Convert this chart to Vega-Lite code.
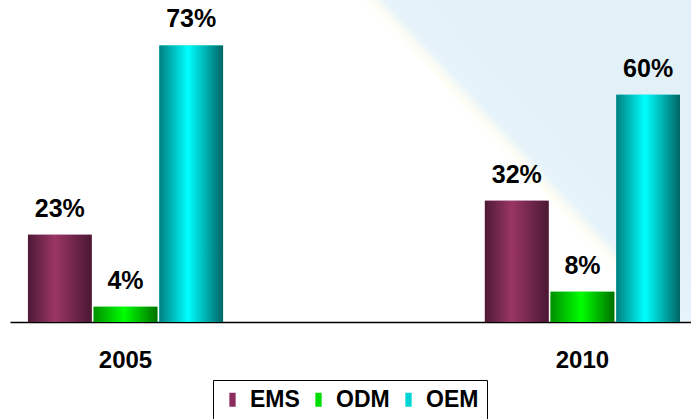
{
  "$schema": "https://vega.github.io/schema/vega-lite/v6.json",
  "width": 681,
  "height": 322,
  "autosize": {"type": "none"},
  "padding": {"left": 10, "top": 0, "right": 0, "bottom": 97},
  "background": "white",
  "view": {
    "stroke": null,
    "fill": {
      "gradient": "linear", "x1": 0.658, "y1": 0.544, "x2": 0.858, "y2": 0.456,
      "stops": [
        {"offset": 0, "color": "#ffffff"},
        {"offset": 0.4, "color": "#ffffff"},
        {"offset": 0.47, "color": "#fdfdf4"},
        {"offset": 0.56, "color": "#e6f3fa"},
        {"offset": 1, "color": "#e2f0f8"}
      ]
    }
  },
  "data": {
    "values": [
      {"year": "2005", "s": "EMS", "v": 23, "label": "23%"},
      {"year": "2005", "s": "ODM", "v": 4, "label": "4%"},
      {"year": "2005", "s": "OEM", "v": 73, "label": "73%"},
      {"year": "2010", "s": "EMS", "v": 32, "label": "32%"},
      {"year": "2010", "s": "ODM", "v": 8, "label": "8%"},
      {"year": "2010", "s": "OEM", "v": 60, "label": "60%"}
    ]
  },
  "encoding": {
    "x": {
      "field": "year", "type": "nominal",
      "scale": {"paddingInner": 0.573, "paddingOuter": 0.0317, "align": 0.62},
      "axis": {
        "title": null, "labelAngle": 0, "ticks": false, "grid": false,
        "domain": true, "domainColor": "black", "domainWidth": 1.5,
        "labelFont": "Liberation Sans", "labelFontSize": 24, "labelFontWeight": "bold",
        "labelColor": "black", "labelPadding": 26
      }
    },
    "xOffset": {"field": "s", "type": "nominal", "scale": {"domain": ["EMS", "ODM", "OEM"], "paddingInner": 0.03}},
    "y": {"field": "v", "type": "quantitative", "scale": {"domain": [0, 85], "nice": false}, "axis": null}
  },
  "layer": [
    {
      "mark": {"type": "bar"},
      "encoding": {
        "color": {
          "field": "s", "type": "nominal",
          "scale": {"domain": ["EMS", "ODM", "OEM"], "range": ["#8b2d5e", "#00dd00", "#00d4d4"]},
          "legend": {
            "orient": "none", "legendX": 203, "legendY": 380, "direction": "horizontal",
            "title": null, "strokeColor": "black", "fillColor": "white",
            "padding": 8, "labelFont": "Liberation Sans", "labelFontSize": 23,
            "labelFontWeight": "bold", "labelColor": "black",
            "symbolType": "M-0.45,-1H0.45V1H-0.45Z", "symbolSize": 196,
            "symbolStrokeWidth": 0, "columnPadding": 7, "labelOffset": 6
          }
        }
      }
    },
    {
      "transform": [{"filter": "datum.s == 'EMS'"}],
      "mark": {
        "type": "bar",
        "fill": {
          "gradient": "linear", "x1": 0, "y1": 0, "x2": 1, "y2": 0,
          "stops": [
            {"offset": 0, "color": "#4d1a36"},
            {"offset": 0.42, "color": "#9b3565"},
            {"offset": 1, "color": "#4a1833"}
          ]
        }
      }
    },
    {
      "transform": [{"filter": "datum.s == 'ODM'"}],
      "mark": {
        "type": "bar",
        "fill": {
          "gradient": "linear", "x1": 0, "y1": 0, "x2": 1, "y2": 0,
          "stops": [
            {"offset": 0, "color": "#008f00"},
            {"offset": 0.48, "color": "#00ff00"},
            {"offset": 1, "color": "#007000"}
          ]
        }
      }
    },
    {
      "transform": [{"filter": "datum.s == 'OEM'"}],
      "mark": {
        "type": "bar",
        "fill": {
          "gradient": "linear", "x1": 0, "y1": 0, "x2": 1, "y2": 0,
          "stops": [
            {"offset": 0, "color": "#007f7f"},
            {"offset": 0.45, "color": "#00ffff"},
            {"offset": 1, "color": "#006464"}
          ]
        }
      }
    },
    {
      "mark": {
        "type": "text", "baseline": "alphabetic", "dy": -18,
        "font": "Liberation Sans", "fontSize": 25, "fontWeight": "bold", "color": "black"
      },
      "encoding": {"text": {"field": "label"}}
    }
  ]
}
